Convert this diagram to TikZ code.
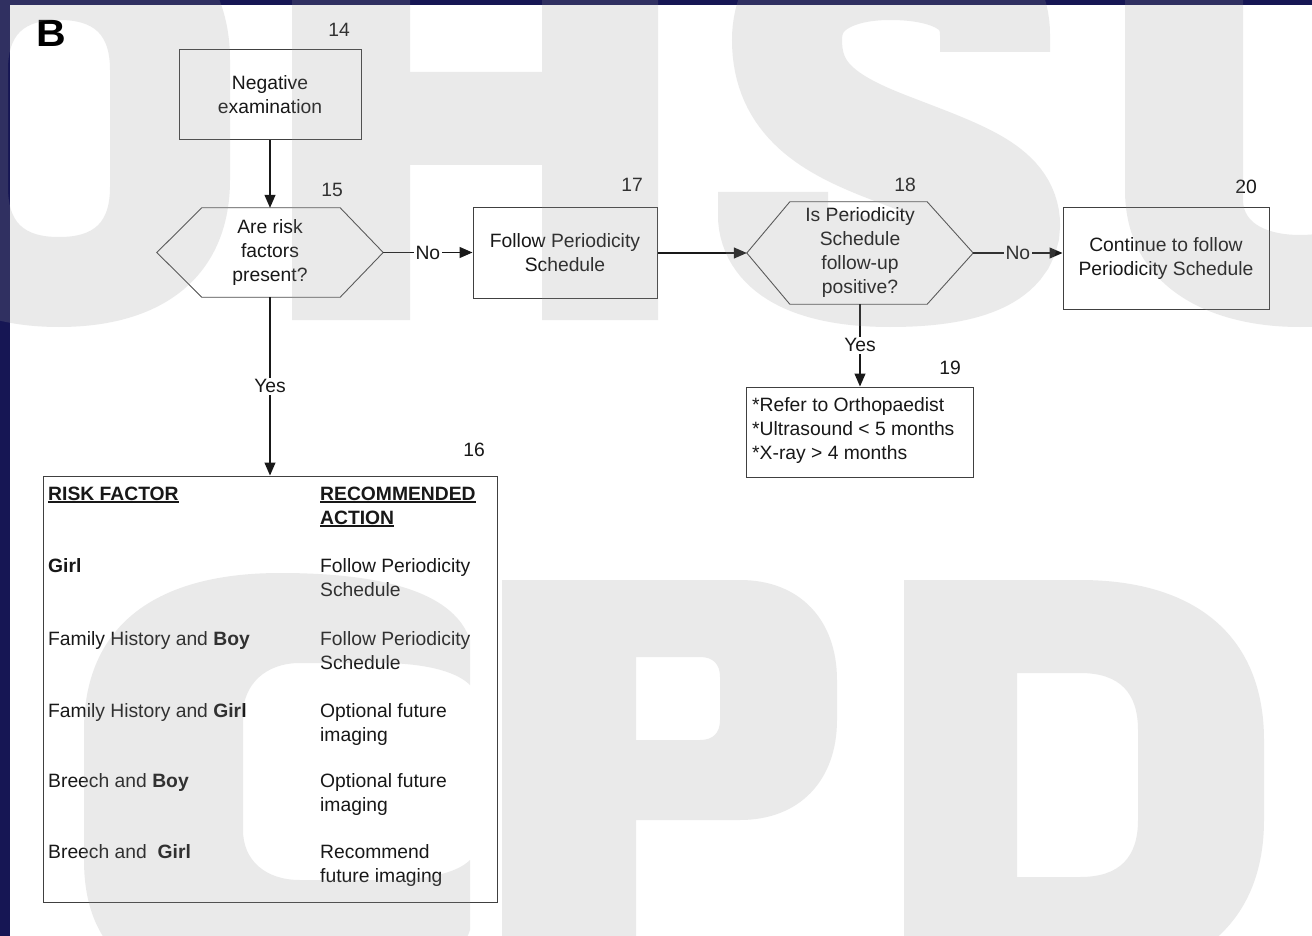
\documentclass[tikz,border=0pt]{standalone}
\usepackage{fontspec}
\setmainfont{Liberation Sans}
\usetikzlibrary{arrows.meta}
\definecolor{navy}{RGB}{22,22,84}
\definecolor{wm}{RGB}{153,153,153}
\definecolor{ink}{RGB}{24,24,24}
\newcommand{\dfont}{\fontsize{19.3}{24}\selectfont}
\newcommand{\myul}[1]{\setbox0\hbox{#1}\leavevmode\rlap{\rule[-2.6pt]{\wd0}{1.4pt}}\box0}
\begin{document}
\begin{tikzpicture}[x=1pt,y=-1pt,
  txt/.style={font=\dfont, text=ink, inner sep=0pt},
  box/.style={draw=black!75, line width=1pt},
  hexline/.style={draw=black!70, line width=0.9pt},
  conn/.style={draw=black!90, line width=1.2pt},
  arr/.style={conn, -{Triangle[length=13pt,width=11pt]}},
  lbl/.style={font=\dfont, text=ink, fill=white, inner sep=2pt},
  cell/.style={font=\dfont, text=ink, inner sep=0pt, anchor=base west},
  wmfill/.style={fill=wm, fill opacity=0.2, even odd rule}
]
\useasboundingbox (0,0) rectangle (1312,936);
\fill[white] (0,0) rectangle (1312,936);
\fill[navy] (0,0) rectangle (10,936);
\fill[navy] (0,0) rectangle (1312,5);

% panel letter
\node[font=\fontsize{38}{38}\selectfont\bfseries, text=black, inner sep=0pt] (lblB) at (51.5,33) {\scalebox{1.08}[1]{B}};

% 14
\node[box, txt, align=center, minimum width=182pt, minimum height=90pt] (b14) at (270,95) {Negative\\examination};
\node[txt] (n14) at (339,30) {14};

% 15
\node[txt, align=center, minimum width=226pt, minimum height=89pt] (h15) at (270,252.5) {Are risk\\factors\\present?};
\draw[hexline] ([xshift=45pt]h15.north west) -- ([xshift=-43pt]h15.north east) -- (h15.east) -- ([xshift=-43pt]h15.south east) -- ([xshift=45pt]h15.south west) -- (h15.west) -- cycle;
\node[txt] (n15) at (332,190) {15};

% 17
\node[box, txt, align=center, minimum width=184pt, minimum height=90pt] (b17) at (565,253) {Follow Periodicity\\Schedule};
\node[txt] (n17) at (632,185) {17};

% 18
\node[txt, align=center, minimum width=226pt, minimum height=102pt] (h18) at (860,253) {Is Periodicity\\Schedule\\follow-up\\positive?};
\draw[hexline] ([xshift=43pt]h18.north west) -- ([xshift=-46pt]h18.north east) -- (h18.east) -- ([xshift=-46pt]h18.south east) -- ([xshift=43pt]h18.south west) -- (h18.west) -- cycle;
\node[txt] (n18) at (905,185) {18};

% 20
\node[box, txt, align=center, minimum width=206pt, minimum height=101pt] (b20) at (1166,258.5) {Continue to follow\\Periodicity Schedule};
\node[txt] (n20) at (1246,187) {20};

% 19
\node[box, minimum width=227pt, minimum height=90pt, inner sep=0pt] (b19) at (860,432) {};
\node[cell] (t19a) at (752,411) {*Refer to Orthopaedist};
\node[cell] (t19b) at (752,435) {*Ultrasound < 5 months};
\node[cell] (t19c) at (752,459) {*X-ray > 4 months};
\node[txt] (n19) at (950,368) {19};

% 16
\node[box, minimum width=454pt, minimum height=426pt, inner sep=0pt] (b16) at (270,689) {};
\node[txt] (n16) at (474,450) {16};
\node[cell] (rf) at (48,500) {\bfseries\myul{RISK FACTOR}};
\node[cell] (ra1) at (320,500) {\bfseries\myul{RECOMMENDED}};
\node[cell] (ra2) at (320,524) {\bfseries\myul{ACTION}};
\node[cell] (r1a) at (48,572) {\bfseries Girl};
\node[cell] (r1b) at (320,572) {Follow Periodicity};
\node[cell] (r1c) at (320,596) {Schedule};
\node[cell] (r2a) at (48,645) {Family History and \textbf{Boy}};
\node[cell] (r2b) at (320,645) {Follow Periodicity};
\node[cell] (r2c) at (320,669) {Schedule};
\node[cell] (r3a) at (48,717) {Family History and \textbf{Girl}};
\node[cell] (r3b) at (320,717) {Optional future};
\node[cell] (r3c) at (320,741) {imaging};
\node[cell] (r4a) at (48,787) {Breech and \textbf{Boy}};
\node[cell] (r4b) at (320,787) {Optional future};
\node[cell] (r4c) at (320,811) {imaging};
\node[cell] (r5a) at (48,858) {Breech and~ \textbf{Girl}};
\node[cell] (r5b) at (320,858) {Recommend};
\node[cell] (r5c) at (320,882) {future imaging};

% connectors
\draw[arr] (b14.south) -- (h15.north);
\draw[arr] (h15.east) -- node[lbl] {No} (h15.east -| b17.west);
\draw[arr] (b17.east) -- (h18.west);
\draw[arr] (h18.east) -- node[lbl] {No} (h18.east -| b20.west);
\draw[arr] (h18.south) -- node[lbl] {Yes} (b19.north);
\draw[arr] (h15.south) -- node[lbl] {Yes} (b16.north);

% watermark
\begin{scope}
\clip (0,0) rectangle (1312,936);
% O
\path[wmfill] (59,-90) .. controls (170,-90) and (230,-30) .. (230,60) -- (230,180) .. controls (230,270) and (170,327) .. (59,327) .. controls (-52,327) and (-112,270) .. (-112,180) -- (-112,60) .. controls (-112,-30) and (-52,-90) .. (59,-90) -- cycle
  (59,20) .. controls (95,20) and (110,35) .. (110,70) -- (110,187) .. controls (110,222) and (95,237) .. (59,237) .. controls (23,237) and (8,222) .. (8,187) -- (8,70) .. controls (8,35) and (23,20) .. (59,20) -- cycle;
% H
\path[wmfill] (292,-90) -- (410,-90) -- (410,72) -- (542,72) -- (542,-90) -- (658,-90) -- (658,320) -- (542,320) -- (542,165) -- (410,165) -- (410,320) -- (292,320) -- cycle;
% S
\draw[wm, draw opacity=0.2, line width=110pt] (995,52) -- (995,35) .. controls (995,-15) and (950,-35) .. (890,-35) .. controls (830,-35) and (787,-10) .. (787,40) .. controls (787,100) and (830,125) .. (890,148) .. controls (960,175) and (1005,190) .. (1005,225) .. controls (1005,255) and (965,272) .. (890,272) .. controls (815,272) and (773,250) .. (773,215) -- (773,192);
% U
\path[wmfill] (1125,-90) -- (1125,190) .. controls (1125,280) and (1200,327) .. (1300,327) .. controls (1400,327) and (1475,280) .. (1475,190) -- (1475,-90) -- cycle
  (1243,-90) -- (1243,200) .. controls (1243,225) and (1270,235) .. (1300,235) .. controls (1330,235) and (1357,225) .. (1357,200) -- (1357,-90) -- cycle;
% C
\path[wmfill] (470,640) .. controls (455,595) and (390,573) .. (280,573) .. controls (150,573) and (84,630) .. (84,730) -- (84,860) .. controls (84,960) and (150,1000) .. (280,1000) .. controls (390,1000) and (455,975) .. (470,930) -- (470,860) .. controls (455,875) and (420,880) .. (380,880) -- (300,880) .. controls (265,880) and (243,860) .. (243,830) -- (243,715) .. controls (243,685) and (265,663) .. (300,663) -- (380,663) .. controls (420,663) and (455,670) .. (470,685) -- cycle;
% P
\path[wmfill] (502,580) -- (740,580) .. controls (800,580) and (837,620) .. (837,680) -- (837,720) .. controls (837,780) and (800,820) .. (740,820) -- (636,820) -- (636,1000) -- (502,1000) -- cycle
  (636,657) -- (700,657) .. controls (713,657) and (720,664) .. (720,677) -- (720,720) .. controls (720,733) and (713,740) .. (700,740) -- (636,740) -- cycle;
% D
\path[wmfill] (904,580) -- (1080,580) .. controls (1200,580) and (1264,640) .. (1264,740) -- (1264,820) .. controls (1264,920) and (1200,980) .. (1080,980) -- (904,980) -- cycle
  (1017,673) -- (1080,673) .. controls (1120,673) and (1138,693) .. (1138,730) -- (1138,820) .. controls (1138,857) and (1120,877) .. (1080,877) -- (1017,877) -- cycle;
\end{scope}
\end{tikzpicture}
\end{document}
